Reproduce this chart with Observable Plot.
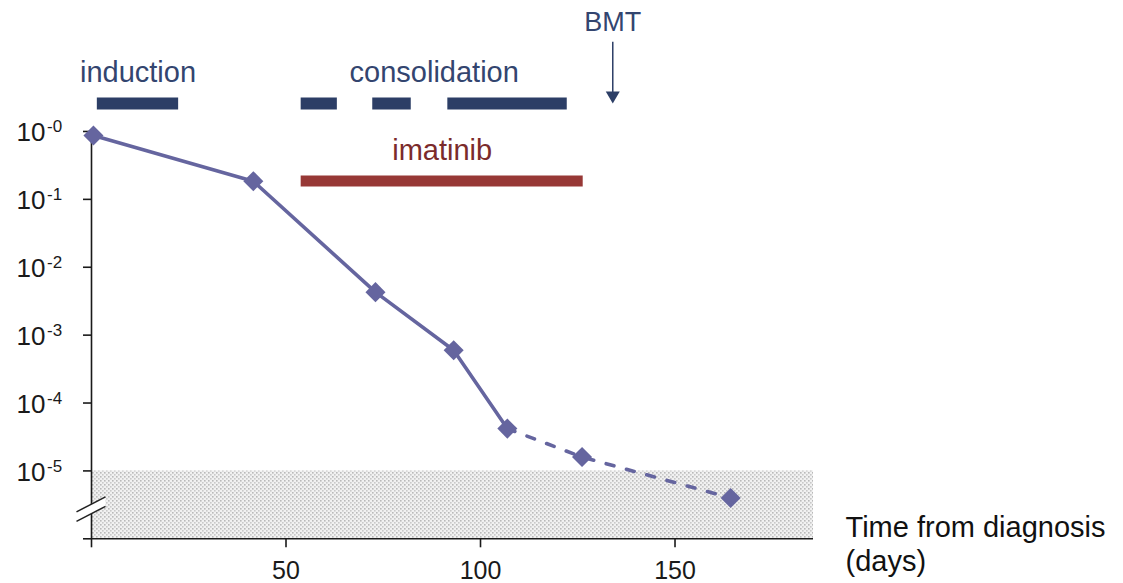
<!DOCTYPE html>
<html>
<head>
<meta charset="utf-8">
<script src="https://cdn.jsdelivr.net/npm/d3@7"></script>
<script src="https://cdn.jsdelivr.net/npm/@observablehq/plot@0.6"></script>
<style>
  html, body { margin: 0; padding: 0; background: #fff; }
</style>
</head>
<body>
<div id="chart"></div>
<script>
// ---- data ----
const days = [0.5, 41.6, 73.0, 93.1, 106.9, 126.1, 164.3];
const mrd  = [0.87, 0.185, 0.0043, 0.0006, 0.000042, 0.000016, 0.000004];
const lastSolidIndex = 4;               // solid line up to this point, dashed after

const phaseNames = ["induction", "consolidation", "consolidation", "consolidation"];
const phaseStart = [1.5, 53.9, 72.3, 91.6];
const phaseEnd   = [22.4, 63.2, 82.2, 122.3];

const imatinibStart = [53.9];
const imatinibEnd   = [126.4];

const bmtDay = [134];

const yTickValues    = [1, 0.1, 0.01, 0.001, 0.0001, 0.00001];
const yTickExponents = ["-0", "-1", "-2", "-3", "-4", "-5"];
const xTickValues    = [50, 100, 150];

const detectionLimit = 1e-5;
const axisFloor = 1e-6;
const xMax = 185.6;

// ---- derived tables ----
const points = days.map((d, i) => ({day: d, value: mrd[i], i}));
const solid = points.filter(p => p.i <= lastSolidIndex);
const dashed = points.filter(p => p.i >= lastSolidIndex);
const phases = phaseNames.map((n, i) => ({name: n, start: phaseStart[i], end: phaseEnd[i]}));
const imatinib = imatinibStart.map((s, i) => ({name: "imatinib", start: s, end: imatinibEnd[i]}));

// phase labels centred over their spans
const labelGroups = d3.groups(phases, d => d.name).map(([name, arr]) => ({
  name,
  mid: (d3.min(arr, d => d.start) + d3.max(arr, d => d.end)) / 2
}));
const imatinibLabel = imatinib.map(d => ({name: d.name, mid: (d.start + d.end) / 2}));

// ---- styles ----
const lineColor = "#65659f";
const navy = "#2c3e66";
const navyText = "#33456f";
const red = "#973836";
const redText = "#7b2b2b";
const font = "Liberation Sans, Arial, Helvetica, sans-serif";

// layout lanes (in y-units of the log scale, above the data region)
const laneBars = 10 ** 0.412;
const laneBarLabels = 10 ** 0.722;
const laneImatinib = 10 ** -0.729;
const laneImatinibLabel = 10 ** -0.427;
const laneBmtLabel = 10 ** 1.487;
const laneArrowTop = 10 ** 1.315;
const laneArrowHead = 10 ** 0.53;
const breakValue = 10 ** -5.57;

const patternDefs = () => {
  const defs = d3.create("svg:defs");
  const p = defs.append("pattern")
    .attr("id", "dots").attr("width", 4).attr("height", 4)
    .attr("patternUnits", "userSpaceOnUse");
  p.append("rect").attr("width", 4).attr("height", 4).attr("fill", "#f1f1f1");
  p.append("rect").attr("width", 1.6).attr("height", 1.6).attr("fill", "#b9b9b9");
  p.append("rect").attr("x", 2).attr("y", 2).attr("width", 1.6).attr("height", 1.6).attr("fill", "#c9c9c9");
  return defs.node();
};

const axisBreak = (index, scales) => {
  const cx = scales.x(0), cy = scales.y(breakValue);
  const hw = 14.5, hs = 7.5, hg = 4.75;
  const g = d3.create("svg:g");
  g.append("path")
    .attr("d", `M${cx - hw},${cy + hs - hg}L${cx + hw},${cy - hs - hg}L${cx + hw},${cy - hs + hg}L${cx - hw},${cy + hs + hg}Z`)
    .attr("fill", "white");
  for (const s of [-1, 1]) {
    g.append("line")
      .attr("x1", cx - hw).attr("y1", cy + hs + s * hg)
      .attr("x2", cx + hw).attr("y2", cy - hs + s * hg)
      .attr("stroke", "#222").attr("stroke-width", 1.5);
  }
  return g.node();
};

const chart = Plot.plot({
  width: 1123,
  height: 583,
  marginLeft: 91,
  marginRight: 310,
  marginTop: 0,
  marginBottom: 44.7,
  style: {fontFamily: font, fontSize: "26px", color: "#1a1a1a", background: "white", overflow: "visible"},
  x: {domain: [0, xMax], label: null},
  y: {type: "log", domain: [axisFloor, 10 ** 1.9293], label: null},
  marks: [
    patternDefs,
    Plot.rect([{}], {x1: 0, x2: xMax, y1: axisFloor, y2: detectionLimit, fill: "url(#dots)"}),
    Plot.ruleY([axisFloor], {x1: 0, x2: xMax, stroke: "#1a1a1a", strokeWidth: 1.6}),
    Plot.ruleX([0], {y1: axisFloor, y2: 1, stroke: "#1a1a1a", strokeWidth: 1.6}),
    Plot.axisY({ticks: [...yTickValues, axisFloor], tickSize: 8, tickFormat: () => "", strokeWidth: 1.6, label: null}),
    Plot.axisX({ticks: [0, ...xTickValues], tickSize: 9, tickPadding: 13, fontSize: 25, strokeWidth: 1.6, label: null,
      tickFormat: d => d === 0 ? "" : String(d)}),
    axisBreak,
    // y tick labels: 10 with superscript exponent
    Plot.text(yTickValues, {y: d => d, frameAnchor: "left", text: () => "10", textAnchor: "end",
      lineAnchor: "bottom", dx: -46, dy: 10, fontSize: 26, fill: "#1a1a1a"}),
    Plot.text(yTickValues, {y: d => d, frameAnchor: "left", text: (d, i) => yTickExponents[i], textAnchor: "start",
      lineAnchor: "bottom", dx: -44.5, dy: 1, fontSize: 17, fill: "#1a1a1a"}),
    // series
    Plot.line(solid, {x: "day", y: "value", stroke: lineColor, strokeWidth: 3.6}),
    Plot.line(dashed, {x: "day", y: "value", stroke: lineColor, strokeWidth: 3.6, strokeDasharray: "8,13"}),
    Plot.dot(points, {x: "day", y: "value", symbol: "square", rotate: 45, r: 8, fill: lineColor}),
    // treatment bars
    Plot.ruleY(phases, {x1: "start", x2: "end", y: laneBars, stroke: navy, strokeWidth: 12}),
    Plot.text(labelGroups, {x: "mid", y: laneBarLabels, text: "name", lineAnchor: "bottom", fill: navyText, fontSize: 29}),
    Plot.ruleY(imatinib, {x1: "start", x2: "end", y: laneImatinib, stroke: red, strokeWidth: 11}),
    Plot.text(imatinibLabel, {x: "mid", y: laneImatinibLabel, text: "name", lineAnchor: "bottom", fill: redText, fontSize: 29}),
    // BMT arrow
    Plot.ruleX(bmtDay, {x: d => d, y1: laneArrowTop, y2: laneArrowHead, stroke: navy, strokeWidth: 1.5}),
    Plot.dot(bmtDay, {x: d => d, y: laneArrowHead, symbol: "triangle", rotate: 180, r: 5.2, fill: navy}),
    Plot.text(bmtDay, {x: d => d, y: laneBmtLabel, text: () => "BMT", lineAnchor: "bottom", fill: navyText, fontSize: 27}),
    // axis title
    Plot.text(["Time from diagnosis\n(days)"], {frameAnchor: "bottom-right", text: d => d, textAnchor: "start",
      lineAnchor: "bottom", dx: 32, dy: 31.7, lineHeight: 1.15, fontSize: 29, fill: "#111"})
  ]
});
document.getElementById("chart").append(chart);
</script>
</body>
</html>
